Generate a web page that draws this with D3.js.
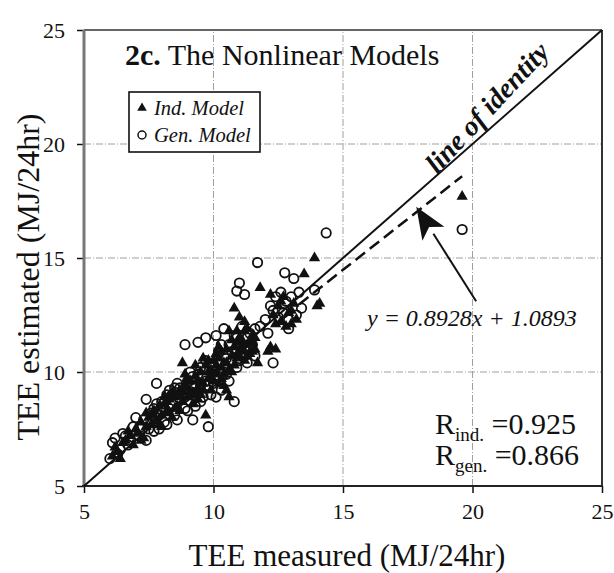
<!DOCTYPE html>
<html><head><meta charset="utf-8">
<script src="https://cdn.jsdelivr.net/npm/d3@7"></script>
<style>
body{margin:0;background:#fff;}
text{font-family:"Liberation Serif","Times New Roman",serif;fill:#111;}
</style></head>
<body><svg id="c" width="614" height="573"></svg>
<script>
// ---- data ----
const xTicks = [5,10,15,20,25];
const yTicks = [5,10,15,20,25];
const gridVals = [10,15,20];
const indModel = [
[6.1,6.3],[6.2,6.7],[6.3,6.5],[6.5,6.9],[6.6,7.0],[6.8,7.2],[6.9,6.8],[7.0,7.5],[7.1,7.3],[7.2,7.8],
[7.3,7.1],[7.4,7.6],[7.5,8.0],[7.6,7.7],[7.7,8.3],[7.8,7.9],[7.9,8.5],[8.0,8.1],[8.1,8.6],[8.2,8.3],
[8.3,8.8],[8.4,8.0],[8.5,8.9],[8.6,8.5],[8.7,9.2],[8.8,8.7],[8.8,10.4],[8.9,9.4],[9.0,8.9],[9.1,9.6],
[9.2,9.1],[9.3,9.8],[9.4,9.3],[9.5,10.0],[9.6,9.5],[9.7,10.3],[9.7,8.1],[9.8,9.7],[9.9,10.1],[10.0,9.6],
[10.0,10.5],[10.1,9.9],[10.2,10.6],[10.3,10.2],[10.4,9.4],[10.5,9.2],[10.6,8.9],[10.7,10.7],[10.8,11.1],[10.8,12.8],
[10.9,10.6],[11.0,12.4],[11.0,11.5],[11.1,10.9],[11.2,11.8],[11.3,11.2],[11.4,10.8],[11.5,11.6],[11.6,11.0],[11.8,13.7],
[11.7,10.4],[12.1,10.9],[12.2,11.1],[12.3,12.5],[12.5,12.9],[12.6,12.2],[12.7,13.3],[12.9,12.6],[13.0,12.1],[13.1,13.0],
[13.5,14.3],[13.9,15.0],[14.1,13.0],[14.0,12.9],[19.6,17.7],
[7.6,8.1],[7.9,7.7],[8.1,8.9],[8.4,9.1],[8.6,9.0],[8.9,9.9],[9.0,9.3],[9.2,8.6],[9.3,10.3],[9.5,9.0],
[9.6,10.6],[9.8,10.0],[9.9,9.2],[10.1,10.8],[10.2,9.5],[10.3,10.9],[10.4,10.4],[10.5,11.0],[10.6,10.1],[10.7,11.4],
[10.8,10.3],[10.9,11.8],[11.0,10.7],[11.1,11.4],[11.2,10.5],[11.3,11.9],[11.4,11.3],[11.5,10.9],[11.6,11.5],[11.2,12.2],
[12.4,12.1],[12.6,13.1],[12.8,12.0],[13.0,12.7],[13.2,12.3],[12.4,11.0],[12.2,13.4],[6.4,6.2],[6.7,7.4],[7.2,7.0],
[7.4,8.2],[8.0,7.6],[8.3,8.2],[8.7,8.3],[9.1,9.0],[9.4,9.6],
[8.2,8.7],[8.5,8.4],[8.8,9.1],[9.0,9.7],[9.3,9.0],[9.6,9.2],[9.9,9.8],[10.1,10.3],[10.3,9.7],[10.5,10.4],
[10.7,10.0],[10.9,11.3],[11.1,11.1],[11.3,10.7],[11.5,11.3],[10.6,11.8],[10.4,9.9],[10.2,11.1],[9.8,10.5],[9.4,8.8]
];
const genModel = [
[6.0,6.2],[6.1,6.9],[6.2,7.1],[6.4,6.6],[6.5,7.3],[6.7,6.8],[6.9,7.6],[7.0,8.0],[7.1,7.2],[7.3,7.9],
[7.4,8.8],[7.5,7.5],[7.7,7.4],[7.7,8.4],[7.8,9.5],[7.9,8.1],[8.0,8.7],[8.1,7.8],[8.2,9.0],[8.3,8.4],
[8.5,9.3],[8.6,7.9],[8.7,8.8],[8.9,11.2],[8.9,8.4],[9.0,9.6],[9.2,7.9],[9.2,9.1],[9.4,11.3],[9.4,9.9],
[9.5,10.2],[9.7,11.5],[9.6,8.9],[10.1,11.6],[9.8,7.6],[9.8,9.4],[10.0,10.3],[10.1,8.9],[10.2,9.8],[10.3,11.2],
[10.4,11.9],[10.5,10.6],[10.6,9.6],[10.8,8.7],[10.9,10.2],[10.9,13.55],[11.0,13.9],[11.0,11.3],[11.2,13.4],[11.3,10.4],
[11.4,11.7],[11.7,14.8],[11.8,12.0],[12.1,11.7],[12.3,10.4],[12.2,12.9],[12.4,13.3],[12.5,12.4],[12.75,14.35],[12.8,13.1],
[13.1,14.1],[12.9,12.3],[13.3,13.5],[13.9,13.6],[14.35,16.1],[19.6,16.25],
[6.3,6.4],[6.6,7.2],[6.8,7.0],[7.2,7.6],[7.6,8.2],[8.0,8.3],[8.3,9.2],[8.4,8.6],[8.6,9.5],[8.8,9.0],
[9.0,8.3],[9.1,10.0],[9.3,9.3],[9.6,9.8],[9.7,10.5],[9.9,9.0],[10.0,9.5],[10.2,10.4],[10.3,9.2],[10.4,10.0],
[10.6,11.2],[10.7,10.9],[10.8,11.6],[10.9,11.0],[11.0,10.5],[11.1,12.0],[11.2,11.1],[11.3,11.5],[11.5,11.2],[11.6,10.7],
[11.1,10.8],[12.0,12.3],[12.3,12.7],[12.6,13.5],[12.7,12.6],[13.0,13.3],[13.2,12.5],[12.9,11.9],[13.4,12.8],[7.4,7.0],
[7.9,7.5],[8.5,8.1],[8.9,8.9],[9.3,8.5],[9.5,9.4],
[8.1,8.4],[8.4,9.0],[8.7,9.3],[9.0,9.0],[9.2,9.8],[9.5,8.7],[9.7,9.6],[10.0,10.0],[10.2,10.9],[10.5,9.9],
[10.7,10.4],[10.9,11.5],[11.2,10.7],[11.4,11.0],[11.6,11.9],[8.2,7.7],[7.8,8.6],[9.1,8.7]
];
const identityLine = [[5,5],[25,25]];
const regSlope = 0.8928, regIntercept = 1.0893;
const regRange = [13.3,19.6];
const arrowTip = [17.83,17.25], arrowTail = [20.14,13.1];
const legendItems = ["Ind. Model","Gen. Model"];
const rValues = [["ind.","0.925"],["gen.","0.866"]];

// ---- chart ----
const svg = d3.select("#c");
const x = d3.scaleLinear().domain([5,25]).range([84,602]);
const y = d3.scaleLinear().domain([5,25]).range([486,30]);

// grid
const grid = svg.append("g").attr("stroke","#a0a0a0").attr("stroke-width",1).attr("stroke-dasharray","7,2,1,2");
grid.selectAll(".gx").data(gridVals).join("line").attr("x1",d=>x(d)).attr("x2",d=>x(d)).attr("y1",y(5)).attr("y2",y(25));
grid.selectAll(".gy").data(gridVals).join("line").attr("y1",d=>y(d)).attr("y2",d=>y(d)).attr("x1",x(5)).attr("x2",x(25));

// axes
const xAxis = d3.axisBottom(x).tickValues(xTicks).tickSize(7).tickPadding(10).tickFormat(d3.format("d"));
const yAxis = d3.axisLeft(y).tickValues(yTicks).tickSize(7).tickPadding(12).tickFormat(d3.format("d"));
const gx = svg.append("g").attr("transform",`translate(0,${y(5)})`).call(xAxis);
const gy = svg.append("g").attr("transform",`translate(${x(5)},0)`).call(yAxis);
[gx,gy].forEach(g=>{
  g.select(".domain").remove();
  g.selectAll(".tick line").attr("stroke","#111").attr("stroke-width",1.5);
  g.selectAll(".tick text").style("font-family","Liberation Serif").style("font-size","22px").attr("fill","#111");
});
gy.selectAll(".tick text").attr("dy","0.35em");

// frame
svg.append("line").attr("x1",x(5)).attr("x2",x(25)).attr("y1",y(25)).attr("y2",y(25)).attr("stroke","#333").attr("stroke-width",1.6);
svg.append("line").attr("x1",x(25)).attr("x2",x(25)).attr("y1",y(25)).attr("y2",y(5)).attr("stroke","#333").attr("stroke-width",2);
svg.append("line").attr("x1",x(5)).attr("x2",x(5)).attr("y1",y(25)).attr("y2",y(5)).attr("stroke","#777").attr("stroke-width",3);
svg.append("line").attr("x1",x(5)-2).attr("x2",x(25)).attr("y1",y(5)).attr("y2",y(5)).attr("stroke","#222").attr("stroke-width",2.2);

// identity line
const lineGen = d3.line().x(d=>x(d[0])).y(d=>y(d[1]));
svg.append("path").attr("d",lineGen(identityLine)).attr("stroke","#111").attr("stroke-width",2).attr("fill","none");
// regression line
const regPts = regRange.map(v=>[v, regSlope*v+regIntercept]);
svg.append("path").attr("d",lineGen(regPts)).attr("stroke","#111").attr("stroke-width",2.5).attr("fill","none").attr("stroke-dasharray","12,6");

// points
const tri = d3.symbol().type(d3.symbolTriangle).size(55);
svg.append("g").selectAll("path").data(indModel).join("path")
  .attr("d",tri).attr("transform",d=>`translate(${x(d[0])},${y(d[1])})`).attr("fill","#111");
svg.append("g").selectAll("circle").data(genModel).join("circle")
  .attr("cx",d=>x(d[0])).attr("cy",d=>y(d[1])).attr("r",4.7).attr("fill","none").attr("stroke","#111").attr("stroke-width",1.8);

// arrow
const tx=x(arrowTip[0]), ty=y(arrowTip[1]), ex=x(arrowTail[0]), ey=y(arrowTail[1]);
const ang = Math.atan2(ey-ty, ex-tx);
const L=32, W=13;
const bx = tx+L*Math.cos(ang), by = ty+L*Math.sin(ang);
svg.append("line").attr("x1",bx).attr("y1",by).attr("x2",ex).attr("y2",ey).attr("stroke","#111").attr("stroke-width",2);
svg.append("path").attr("fill","#111")
  .attr("d",`M${tx},${ty}L${bx-W*Math.sin(ang)},${by+W*Math.cos(ang)}L${tx+24*Math.cos(ang)},${ty+24*Math.sin(ang)}L${bx+W*Math.sin(ang)},${by-W*Math.cos(ang)}Z`);

// equation
svg.append("text").attr("x",367).attr("y",326).style("font-size","24px").style("font-style","italic")
  .text(`y = ${regSlope}x + ${regIntercept}`);

// line of identity label
svg.append("text").attr("transform","translate(494,114) rotate(-47)").attr("text-anchor","middle")
  .style("font-size","28px").style("font-style","italic").style("font-weight","bold").text("line of identity");

// title
const t = svg.append("text").attr("x",125).attr("y",65).style("font-size","30px");
t.append("tspan").style("font-weight","bold").text("2c.");
t.append("tspan").text(" The Nonlinear Models");

// legend
svg.append("rect").attr("x",129).attr("y",92).attr("width",131).attr("height",60).attr("fill","#fff").attr("stroke","#111").attr("stroke-width",1.6);
const lg = svg.append("g").selectAll("g").data(legendItems).join("g").attr("transform",(d,i)=>`translate(142,${108+i*27})`);
lg.filter((d,i)=>i===0).append("path").attr("d",d3.symbol().type(d3.symbolTriangle).size(40)).attr("fill","#111");
lg.filter((d,i)=>i===1).append("circle").attr("r",4).attr("fill","none").attr("stroke","#111").attr("stroke-width",1.5);
lg.append("text").attr("x",12).attr("y",7).style("font-size","20.5px").style("font-style","italic").text(d=>d);

// R values
rValues.forEach((r,i)=>{
  const tt = svg.append("text").attr("x",435).attr("y",434+i*31).style("font-size","30px");
  tt.append("tspan").text("R");
  tt.append("tspan").attr("dy",7).style("font-size","19px").text(r[0]);
  tt.append("tspan").attr("dy",-7).text(" =" + r[1]);
});

// axis titles
svg.append("text").attr("x",347).attr("y",566).attr("text-anchor","middle").style("font-size","31px").text("TEE measured (MJ/24hr)");
svg.append("text").attr("transform","translate(39,277) rotate(-90)").attr("text-anchor","middle").style("font-size","32px").text("TEE estimated (MJ/24hr)");
</script></body></html>
